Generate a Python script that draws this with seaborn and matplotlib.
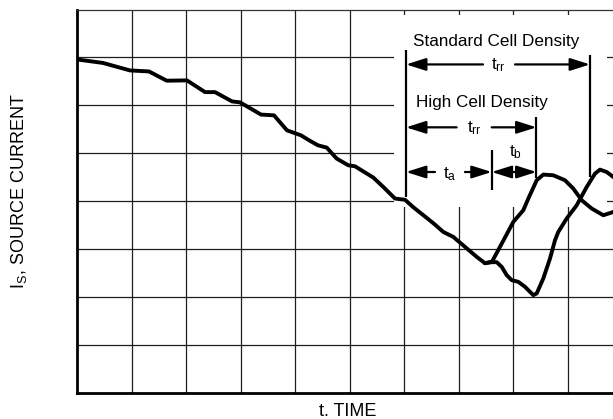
import matplotlib
matplotlib.use("Agg")
import matplotlib.pyplot as plt
import seaborn as sns
import pandas as pd
from matplotlib.patches import Rectangle

# ---- data (grid divisions) ----
t_common = [0.000, 0.477, 0.972, 1.321, 1.646, 2.018, 2.349, 2.532, 2.844, 2.991,
            3.376, 3.615, 3.853, 4.110, 4.275, 4.422, 4.582, 4.765, 4.978, 5.101,
            5.437, 5.620, 5.835, 6.018, 6.165, 6.538, 6.721, 6.905, 7.334, 7.486]
i_common = [6.958, 6.885, 6.729, 6.708, 6.515, 6.521, 6.277, 6.277, 6.083, 6.063,
            5.808, 5.792, 5.479, 5.375, 5.260, 5.167, 5.119, 4.890, 4.750, 4.729,
            4.494, 4.298, 4.056, 4.031, 3.881, 3.542, 3.360, 3.256, 2.840, 2.708]

t_high = [7.486, 7.615, 7.761, 8.006, 8.189, 8.281, 8.435, 8.556, 8.739, 8.954,
          9.106, 9.261, 9.444, 9.657, 9.841, 10.0]
i_high = [2.708, 2.740, 3.048, 3.569, 3.813, 4.056, 4.438, 4.556, 4.542, 4.438,
          4.265, 4.021, 3.848, 3.708, 3.777, 3.917]

t_std = [7.486, 7.615, 7.701, 7.793, 7.885, 7.976, 8.097, 8.220, 8.372, 8.435,
         8.556, 8.679, 8.771, 8.831, 8.985, 9.169, 9.352, 9.505, 9.596, 9.719,
         9.841, 10.0]
i_std = [2.708, 2.729, 2.729, 2.631, 2.458, 2.354, 2.319, 2.215, 2.042, 2.077,
         2.390, 2.806, 3.188, 3.360, 3.640, 3.917, 4.298, 4.577, 4.660, 4.610,
         4.506, 4.375]

x_label = "t. TIME"
y_label = "I$_S$, SOURCE CURRENT"
std_title = "Standard Cell Density"
high_title = "High Cell Density"
trr_label = "t$_{rr}$"
ta_label = "t$_a$"
tb_label = "t$_b$"

# ---- style ----
sns.set_style("white")
plt.rcParams['font.family'] = ['Liberation Sans', 'DejaVu Sans']
plt.rcParams['mathtext.default'] = 'regular'
plt.rcParams['text.color'] = 'black'

fig = plt.figure(figsize=(6.13, 4.19), dpi=100)
W, H = 613.0, 419.0
ax = fig.add_axes([77 / W, (H - 393) / H, 545 / W, 383.5 / H])

ax.set_xlim(0, 10)
ax.set_ylim(0, 8)
ax.set_xticks(range(1, 10))
ax.set_yticks(range(1, 8))
ax.tick_params(length=0, labelbottom=False, labelleft=False)
ax.set_axisbelow(True)
ax.grid(True, color='#1e1e1e', linewidth=0.9)

for side in ['left', 'bottom']:
    ax.spines[side].set_linewidth(2.0)
    ax.spines[side].set_color('black')
ax.spines['top'].set_linewidth(0.9)
ax.spines['top'].set_color('#333333')
ax.spines['right'].set_visible(False)

# white area behind annotations
ax.add_patch(Rectangle((5.817, 3.875), 3.908, 4.0, facecolor='white',
                       edgecolor='none', zorder=1))

# ---- curves ----
lw_curve = 2.8
for tt, ii in [(t_common, i_common), (t_high, i_high), (t_std, i_std)]:
    df = pd.DataFrame({'t': tt, 'i': ii})
    sns.lineplot(data=df, x='t', y='i', sort=False, estimator=None,
                 color='black', linewidth=lw_curve, ax=ax, zorder=3,
                 solid_joinstyle='round', solid_capstyle='round')

ax.set_xlabel('')
ax.set_ylabel('')
ax.text((347.5 - 77) / 545, (393 - 411) / 383.5, x_label, fontsize=13,
        ha='center', va='center', transform=ax.transAxes, clip_on=False)
ax.text((19 - 77) / 545, (393 - 191) / 383.5, y_label, fontsize=13,
        rotation=90, ha='center', va='center', transform=ax.transAxes,
        clip_on=False)

# ---- annotations ----
lw_ann = 1.6
astyle = '-|>,head_length=1.2,head_width=0.38'


def arrow(x_from, x_to, y):
    ax.annotate('', xy=(x_to, y), xytext=(x_from, y),
                arrowprops=dict(arrowstyle=astyle, color='black', lw=lw_ann,
                                shrinkA=0, shrinkB=0, mutation_scale=10),
                zorder=4)


def vline(x, y0, y1):
    ax.plot([x, x], [y0, y1], color='black', lw=lw_ann, zorder=4,
            solid_capstyle='butt')


x_left = 6.037
x_std_r = 9.413
x_high_r = 8.431
x_tick = 7.609
y_std = 6.854
y_high = 5.542
y_ab = 4.610

vline(x_left, 4.083, 7.146)
vline(x_std_r, 4.50, 7.042)
vline(x_high_r, 4.479, 5.756)
vline(x_tick, 4.229, 5.0625)

arrow(7.450, x_left, y_std)
arrow(8.037, x_std_r, y_std)
arrow(6.966, x_left, y_high)
arrow(7.609, x_high_r, y_high)
arrow(6.569, x_left, y_ab)
arrow(7.119, x_tick, y_ab)
arrow(8.020, x_tick, y_ab)
arrow(8.020, x_high_r, y_ab)

fs = 12.3
ax.text(7.688, 7.333, std_title, fontsize=fs, ha='center', va='center', zorder=5)
ax.text(7.426, 6.063, high_title, fontsize=fs, ha='center', va='center', zorder=5)
ax.text(7.735, 6.83, trr_label, fontsize=fs, ha='center', va='center', zorder=5)
ax.text(7.284, 5.52, trr_label, fontsize=fs, ha='center', va='center', zorder=5)
ax.text(6.844, 4.56, ta_label, fontsize=fs, ha='center', va='center', zorder=5)
ax.text(8.037, 5.02, tb_label, fontsize=fs, ha='center', va='center', zorder=5)

fig.savefig("out.png", dpi=100)
